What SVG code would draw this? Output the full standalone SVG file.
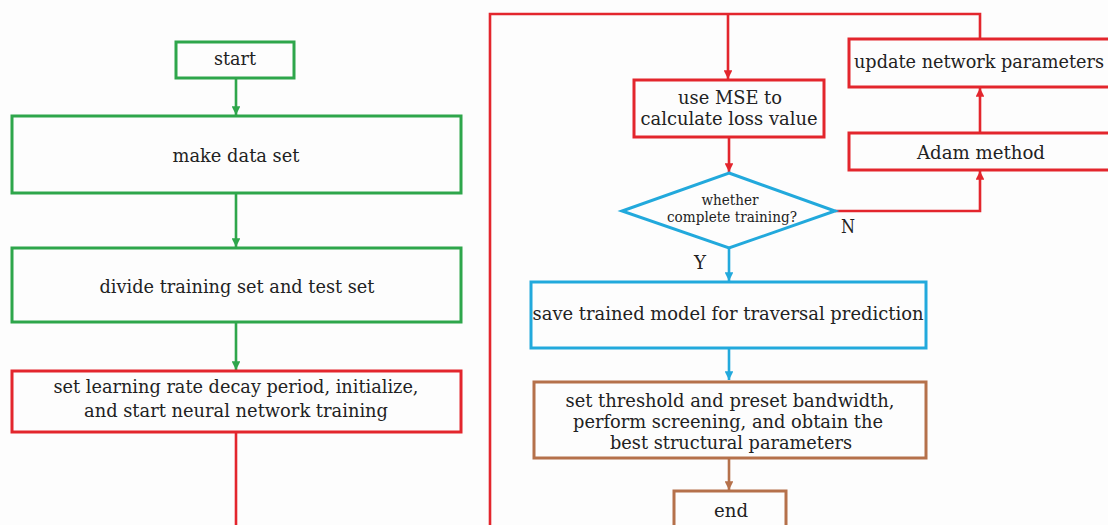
<svg xmlns="http://www.w3.org/2000/svg" width="1108" height="525" viewBox="0 0 1108 525">
<style>
  text { font-family: "DejaVu Serif", "Liberation Serif", serif; fill: #222; font-size: 18.5px; text-anchor: middle; }
  .sm { font-size: 14px; }
  .box { fill: none; stroke-width: 3; }
  .g { stroke: #2ea64b; }
  .r { stroke: #e3262d; }
  .b { stroke: #22a9dc; }
  .o { stroke: #b5714b; }
  .ln { fill: none; stroke-width: 2.6; }
</style>
<defs>
  <marker id="ag" viewBox="0 0 10 10" refX="10" refY="5" markerWidth="3.4" markerHeight="3.4" orient="auto" markerUnits="strokeWidth"><path d="M0,0 L10,5 L0,10 z" fill="#2ea64b"/></marker>
  <marker id="ar" viewBox="0 0 10 10" refX="10" refY="5" markerWidth="3.4" markerHeight="3.4" orient="auto" markerUnits="strokeWidth"><path d="M0,0 L10,5 L0,10 z" fill="#e3262d"/></marker>
  <marker id="ab" viewBox="0 0 10 10" refX="10" refY="5" markerWidth="3.4" markerHeight="3.4" orient="auto" markerUnits="strokeWidth"><path d="M0,0 L10,5 L0,10 z" fill="#22a9dc"/></marker>
  <marker id="ao" viewBox="0 0 10 10" refX="10" refY="5" markerWidth="3.4" markerHeight="3.4" orient="auto" markerUnits="strokeWidth"><path d="M0,0 L10,5 L0,10 z" fill="#b5714b"/></marker>
</defs>
<rect x="0" y="0" width="1108" height="525" fill="#fdfdfd"/>

<g id="connectors">
  <path class="ln g" d="M236,78 V115" marker-end="url(#ag)"/>
  <path class="ln g" d="M236,193 V247" marker-end="url(#ag)"/>
  <path class="ln g" d="M236,322 V370" marker-end="url(#ag)"/>
  <path class="ln r" d="M236,432 V525"/>
  <path class="ln r" d="M490,525 V14 H980 V38"/>
  <path class="ln r" d="M728,14 V79" marker-end="url(#ar)"/>
  <path class="ln r" d="M729,137 V172" marker-end="url(#ar)"/>
  <path class="ln r" d="M835,211 H980 V171" marker-end="url(#ar)"/>
  <path class="ln r" d="M980,133 V88" marker-end="url(#ar)"/>
  <path class="ln b" d="M729,248 V281" marker-end="url(#ab)"/>
  <path class="ln b" d="M729,348 V380" marker-end="url(#ab)"/>
  <path class="ln o" d="M729,458 V490" marker-end="url(#ao)"/>
</g>

<g id="start">
  <rect class="box g" x="176" y="42" width="118" height="36"/>
  <text x="235" y="65" textLength="42" lengthAdjust="spacingAndGlyphs">start</text>
</g>
<g id="make-data-set">
  <rect class="box g" x="12" y="116" width="449" height="77"/>
  <text x="236" y="162" textLength="127" lengthAdjust="spacingAndGlyphs">make data set</text>
</g>
<g id="divide">
  <rect class="box g" x="12" y="248" width="449" height="74"/>
  <text x="237" y="293" textLength="275" lengthAdjust="spacingAndGlyphs">divide training set and test set</text>
</g>
<g id="set-learning-rate">
  <rect class="box r" x="12" y="371" width="449" height="61"/>
  <text x="236" y="393" textLength="365" lengthAdjust="spacingAndGlyphs">set learning rate decay period, initialize,</text>
  <text x="236" y="417" textLength="304" lengthAdjust="spacingAndGlyphs">and start neural network training</text>
</g>
<g id="mse">
  <rect class="box r" x="634" y="80" width="190" height="57"/>
  <text x="730" y="104" textLength="104" lengthAdjust="spacingAndGlyphs">use MSE to</text>
  <text x="729" y="125" textLength="177" lengthAdjust="spacingAndGlyphs">calculate loss value</text>
</g>
<g id="update">
  <rect class="box r" x="849" y="39" width="262" height="48"/>
  <text x="979" y="68" textLength="250" lengthAdjust="spacingAndGlyphs">update network parameters</text>
</g>
<g id="adam">
  <rect class="box r" x="849" y="133" width="262" height="37"/>
  <text x="981" y="159" textLength="128" lengthAdjust="spacingAndGlyphs">Adam method</text>
</g>
<g id="decision">
  <polygon class="box b" points="729,173 835,211 729,248 622,211"/>
  <text class="sm" x="730" y="205" textLength="57" lengthAdjust="spacingAndGlyphs">whether</text>
  <text class="sm" x="732" y="222" textLength="130" lengthAdjust="spacingAndGlyphs">complete training?</text>
  <text x="848" y="233" textLength="14" lengthAdjust="spacingAndGlyphs">N</text>
  <text x="700" y="269" textLength="12" lengthAdjust="spacingAndGlyphs">Y</text>
</g>
<g id="save-model">
  <rect class="box b" x="531" y="282" width="395" height="66"/>
  <text x="728" y="320" textLength="391" lengthAdjust="spacingAndGlyphs">save trained model for traversal prediction</text>
</g>
<g id="threshold">
  <rect class="box o" x="534" y="382" width="392" height="76"/>
  <text x="730" y="407" textLength="329" lengthAdjust="spacingAndGlyphs">set threshold and preset bandwidth,</text>
  <text x="728" y="428" textLength="310" lengthAdjust="spacingAndGlyphs">perform screening, and obtain the</text>
  <text x="731" y="449" textLength="242" lengthAdjust="spacingAndGlyphs">best structural parameters</text>
</g>
<g id="end">
  <rect class="box o" x="674" y="491" width="112" height="40"/>
  <text x="731" y="517" textLength="34" lengthAdjust="spacingAndGlyphs">end</text>
</g>
</svg>
